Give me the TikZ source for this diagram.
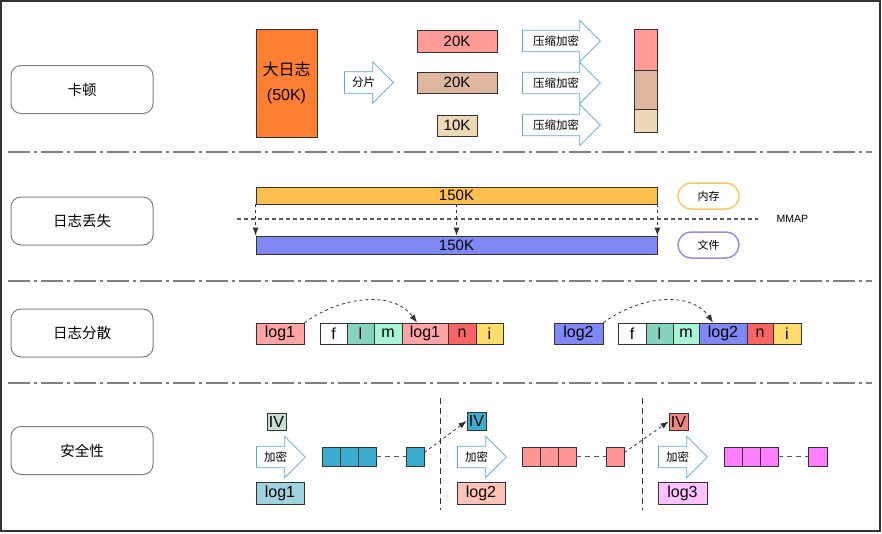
\documentclass[tikz,border=0pt]{standalone}
\usepackage{fontspec}
\setmainfont{Liberation Sans}
\newfontfamily\cjk{Noto Sans CJK SC}
\usepackage{tikz}
\usetikzlibrary{shapes.arrows,arrows.meta}

\definecolor{lineGray}{HTML}{808080}
\definecolor{edgeDark}{HTML}{333333}
\definecolor{arrowBlue}{HTML}{5AA7DA}
\definecolor{bigOrange}{HTML}{FF7F32}
\definecolor{partSalmon}{HTML}{FF9B96}
\definecolor{partTan}{HTML}{DFB79F}
\definecolor{partSand}{HTML}{EDD8B6}
\definecolor{memYellow}{HTML}{FCC04F}
\definecolor{fileBlue}{HTML}{8088F6}
\definecolor{pillYellow}{HTML}{F8C761}
\definecolor{pillBlue}{HTML}{8C91F0}
\definecolor{logPink}{HTML}{FFA4A4}
\definecolor{fTeal}{HTML}{84D4C0}
\definecolor{mMint}{HTML}{A9F3D6}
\definecolor{nRed}{HTML}{FA6464}
\definecolor{iYellow}{HTML}{FFDC6C}
\definecolor{ivGreen}{HTML}{C6E2CE}
\definecolor{encTeal}{HTML}{3BAED0}
\definecolor{logTeal}{HTML}{9DD4E0}
\definecolor{encRed}{HTML}{FF9696}
\definecolor{logPeach}{HTML}{FFC2B6}
\definecolor{ivRed}{HTML}{F18686}
\definecolor{encPink}{HTML}{FF80FF}
\definecolor{logLilac}{HTML}{FFC0FF}

\newcommand\fsz[1]{\fontsize{#1}{#1}\selectfont}

\begin{document}
\begin{tikzpicture}[x=1pt,y=-1pt,
  topic/.style={draw=lineGray,line width=1pt,rounded corners=10pt,minimum width=142pt,minimum height=48pt,font=\cjk\fsz{14.5}},
  sep/.style={draw=lineGray,line width=1.5pt,dash pattern=on 22pt off 4pt on 3pt off 4pt},
  blk/.style={draw=edgeDark,line width=0.8pt,inner sep=0pt,font=\fsz{15}},
  cell/.style={blk,font=\fsz{16}},
  pill/.style={line width=1.5pt,rounded corners=13pt,minimum width=61pt,minimum height=26pt,font=\cjk\fsz{11}},
  fat/.style={single arrow,draw=arrowBlue,fill=white,line width=0.8pt,single arrow head extend=10pt,
    single arrow tip angle=90,inner xsep=3pt,inner ysep=5pt,anchor=tail,font=\cjk\fsz{11.5}},
  hop/.style={draw=edgeDark,dashed,line width=0.8pt,-{Latex[length=8pt,width=6pt]}}]
\useasboundingbox (0,0) rectangle (882,533);
\draw[edgeDark,line width=1.2pt] (1,1) rectangle (880,531);

% separators
\draw[sep] (8,152) -- (872,152);
\draw[sep] (8,281) -- (872,281);
\draw[sep] (8,383) -- (872,383);

% topics
\node[topic] (stall) at (82,89.5) {卡顿};
\node[topic] (loss) at (82,221) {日志丢失};
\node[topic] (spread) at (82,333) {日志分散};
\node[topic] (safe) at (82,450.5) {安全性};

% row 1
\node[blk,fill=bigOrange,minimum width=61pt,minimum height=108pt,align=center,font=\cjk\fontsize{16}{25}\selectfont] (big) at (286.5,83) {大日志\\{\rmfamily(50K)}};
\node[fat,minimum height=49pt] (split) at (344,82.5) {分片};
\node[blk,fill=partSalmon,minimum width=80pt,minimum height=22pt] (partA) at (457,41) {20K};
\node[blk,fill=partTan,minimum width=80pt,minimum height=21pt] (partB) at (457,82.5) {20K};
\node[blk,fill=partSand,minimum width=40pt,minimum height=21pt] (partC) at (457,125.5) {10K};
\node[fat,minimum height=78pt] (zipA) at (522,41) {压缩加密};
\node[fat,minimum height=78pt] (zipB) at (522,83) {压缩加密};
\node[fat,minimum height=78pt] (zipC) at (522,125) {压缩加密};
\node[blk,fill=partSalmon,minimum width=23pt,minimum height=41pt] (packA) at (645.5,49.5) {};
\node[blk,fill=partTan,minimum width=23pt,minimum height=39pt] (packB) at (645.5,89.5) {};
\node[blk,fill=partSand,minimum width=23pt,minimum height=23pt] (packC) at (645.5,120.5) {};

% row 2
\node[blk,fill=memYellow,minimum width=401pt,minimum height=17pt] (memBar) at (456.5,195.5) {150K};
\node[blk,fill=fileBlue,minimum width=401pt,minimum height=18pt] (fileBar) at (456.5,245) {150K};
\node[pill,draw=pillYellow] (mem) at (708.5,196) {内存};
\node[pill,draw=pillBlue] (file) at (708.5,245) {文件};
\coordinate (mmapL) at (237,219);
\coordinate (mmapR) at (758,219);
\draw[lineGray!70!black,line width=1.2pt,dash pattern=on 4pt off 3pt] (mmapL) -- (mmapR);
\node[anchor=west,font=\fsz{10.5}] (mmap) at (773,219) {MMAP};
\draw[hop] (memBar.south west) -- (fileBar.north west);
\draw[hop] (memBar.south) -- (fileBar.north);
\draw[hop] (memBar.south east) -- (fileBar.north east);

% row 3
\node[cell,fill=logPink,minimum width=48pt,minimum height=21pt] (lgA) at (280,333.5) {log1};
\node[cell,fill=white,minimum width=27pt,minimum height=21pt] (fA) at (333.5,333.5) {f};
\node[cell,fill=fTeal,minimum width=27pt,minimum height=21pt] (lA) at (360.5,333.5) {l};
\node[cell,fill=mMint,minimum width=28pt,minimum height=21pt] (mA) at (388,333.5) {m};
\node[cell,fill=logPink,minimum width=46pt,minimum height=21pt] (slotA) at (425,333.5) {log1};
\node[cell,fill=nRed,minimum width=28pt,minimum height=21pt] (nA) at (462,333.5) {n};
\node[cell,fill=iYellow,minimum width=27pt,minimum height=21pt] (iA) at (489.5,333.5) {i};
\draw[hop] (lgA.north east) .. controls (345,294) and (395,292) .. ([xshift=-8pt]slotA.north);

\node[cell,fill=fileBlue,minimum width=49pt,minimum height=21pt] (lgB) at (578.5,333.5) {log2};
\node[cell,fill=white,minimum width=28pt,minimum height=21pt] (fB) at (632,333.5) {f};
\node[cell,fill=fTeal,minimum width=27pt,minimum height=21pt] (lB) at (659.5,333.5) {l};
\node[cell,fill=mMint,minimum width=26pt,minimum height=21pt] (mB) at (686,333.5) {m};
\node[cell,fill=fileBlue,minimum width=48pt,minimum height=21pt] (slotB) at (723,333.5) {log2};
\node[cell,fill=nRed,minimum width=26pt,minimum height=21pt] (nB) at (760,333.5) {n};
\node[cell,fill=iYellow,minimum width=28pt,minimum height=21pt] (iB) at (787,333.5) {i};
\draw[hop] (lgB.north east) .. controls (643,294) and (692,292) .. ([xshift=-10pt]slotB.north);

% row 4
\draw[edgeDark,line width=1pt,dash pattern=on 6pt off 4pt] (440,398) -- (440,510);
\draw[edgeDark,line width=1pt,dash pattern=on 6pt off 4pt] (642,398) -- (642,510);

\node[cell,fill=ivGreen,minimum width=19pt,minimum height=17pt] (ivA) at (276.5,421.5) {IV};
\node[fat,minimum height=49pt] (encA) at (256,457) {加密};
\node[cell,fill=logTeal,minimum width=48pt,minimum height=22pt] (srcA) at (280,493) {log1};
\node[blk,fill=encTeal,minimum width=18pt,minimum height=19pt] (tA1) at (331,456.5) {};
\node[blk,fill=encTeal,minimum width=18pt,minimum height=19pt] (tA2) at (349,456.5) {};
\node[blk,fill=encTeal,minimum width=18pt,minimum height=19pt] (tA3) at (367,456.5) {};
\node[blk,fill=encTeal,minimum width=18pt,minimum height=19pt] (tA4) at (415,456.5) {};
\draw[lineGray!70!black,line width=1pt,dash pattern=on 5pt off 4pt] (tA3) -- (tA4);

\node[cell,fill=encTeal,minimum width=19pt,minimum height=18pt] (ivB) at (476.5,421) {IV};
\draw[hop] ([yshift=4pt]tA4.east) -- (ivB.west);
\node[fat,minimum height=49pt] (encB) at (457,457) {加密};
\node[cell,fill=logPeach,minimum width=48pt,minimum height=22pt] (srcB) at (481,493) {log2};
\node[blk,fill=encRed,minimum width=18pt,minimum height=19pt] (tB1) at (531,456.5) {};
\node[blk,fill=encRed,minimum width=18pt,minimum height=19pt] (tB2) at (549,456.5) {};
\node[blk,fill=encRed,minimum width=18pt,minimum height=19pt] (tB3) at (567,456.5) {};
\node[blk,fill=encRed,minimum width=18pt,minimum height=19pt] (tB4) at (615,456.5) {};
\draw[lineGray!70!black,line width=1pt,dash pattern=on 5pt off 4pt] (tB3) -- (tB4);

\node[cell,fill=ivRed,minimum width=19pt,minimum height=17pt] (ivC) at (678.5,421.5) {IV};
\draw[hop] ([yshift=4pt]tB4.east) -- (ivC.west);
\node[fat,minimum height=49pt] (encC) at (658,457) {加密};
\node[cell,fill=logLilac,minimum width=49pt,minimum height=22pt] (srcC) at (682.5,493) {log3};
\node[blk,fill=encPink,minimum width=18pt,minimum height=19pt] (tC1) at (733,456.5) {};
\node[blk,fill=encPink,minimum width=18pt,minimum height=19pt] (tC2) at (751,456.5) {};
\node[blk,fill=encPink,minimum width=18pt,minimum height=19pt] (tC3) at (769,456.5) {};
\node[blk,fill=encPink,minimum width=19pt,minimum height=19pt] (tC4) at (817.5,456.5) {};
\draw[lineGray!70!black,line width=1pt,dash pattern=on 5pt off 4pt] (tC3) -- (tC4);
\end{tikzpicture}
\end{document}
